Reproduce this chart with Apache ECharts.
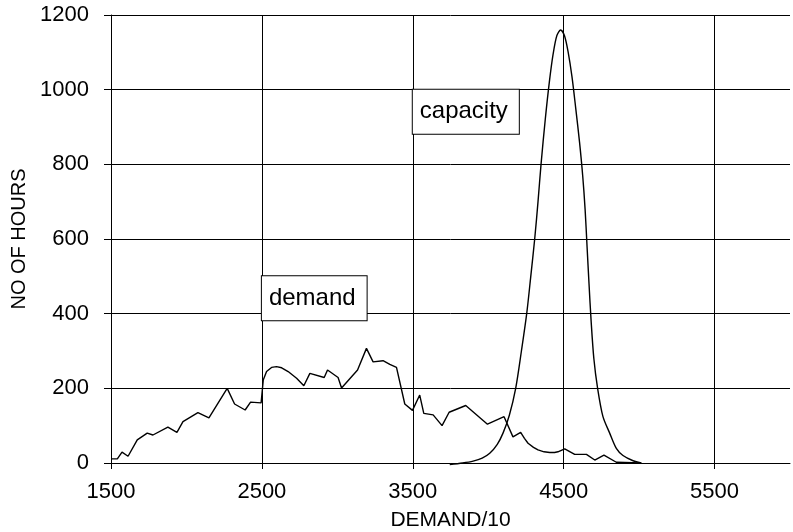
<!DOCTYPE html>
<html>
<head>
<meta charset="utf-8">
<script src="https://cdn.jsdelivr.net/npm/echarts@6/dist/echarts.min.js"></script>
<style>
    html, body { margin: 0; padding: 0; background: #fff; }
    #chart { width: 793px; height: 532px; }
</style>
</head>
<body>
<div id="chart"></div>
<script>
// demand curve
var demandX = [1502, 1542, 1573, 1613, 1674, 1740, 1778, 1877, 1937, 1977, 2076, 2149, 2270, 2319, 2389, 2425, 2495,
    2502, 2509, 2531, 2564, 2597, 2631, 2674, 2730, 2778, 2818, 2913, 2935, 3005, 3028, 3134, 3193, 3237, 3303, 3348, 3392,
    3447, 3498, 3546, 3573, 3635, 3694, 3741, 3851, 3995, 4105, 4164, 4215, 4240, 4264, 4300, 4330, 4370, 4408, 4440, 4462,
    4507, 4573, 4651, 4706, 4767, 4849, 5015];
var demandY = [11, 11, 29, 18, 62, 80, 75, 96, 82, 111, 135, 121, 200, 158, 142, 163, 161,
    164, 222, 245, 256, 258, 255, 245, 227, 207, 240, 229, 249, 229, 201, 249, 307, 271, 274, 264, 256,
    158, 141, 182, 133, 129, 100, 136, 154, 104, 124, 70, 82, 66, 53, 42, 35, 30, 28, 28, 30,
    38, 23, 23, 8, 21, 2, 0];

// capacity curve
var capacityX = [3745, 3830, 3900, 3960, 4010, 4060, 4098, 4140, 4182, 4220, 4255, 4282, 4308, 4330, 4350, 4378, 4405,
    4430, 4455, 4480, 4505, 4530, 4555, 4580, 4605, 4626, 4642, 4655, 4668, 4682, 4700, 4725, 4760, 4805, 4849,
    4893, 4960, 5014];
var capacityY = [-4, 0, 5, 13, 26, 50, 80, 128, 200, 300, 400, 500, 600, 700, 800, 920, 1020,
    1095, 1145, 1160, 1145, 1100, 1035, 950, 860, 770, 680, 580, 480, 380, 280, 200, 125, 80, 39,
    20, 6, 0];

var xTicks = { min: 1500, max: 6000, step: 1000 };
var yTicks = { min: 0, max: 1200, step: 200 };

var notes = [
    { text: 'capacity', at: [3500, 1000] },
    { text: 'demand', at: [2500, 500] }
];

function pairs(xs, ys) {
    var out = [];
    for (var i = 0; i < xs.length; i++) {
        out.push([xs[i], ys[i]]);
    }
    return out;
}

var chart = echarts.init(document.getElementById('chart'));
var font = "'Liberation Sans', Arial, sans-serif";

chart.setOption({
    animation: false,
    backgroundColor: '#fff',
    grid: { left: 111, right: 3, top: 15, bottom: 69, containLabel: false, outerBoundsMode: 'none' },
    xAxis: {
        type: 'value',
        min: xTicks.min,
        max: xTicks.max,
        interval: xTicks.step,
        name: 'DEMAND/10',
        nameLocation: 'middle',
        nameGap: 47,
        nameTextStyle: { color: '#000', fontSize: 21, fontFamily: font },
        axisLine: { show: true, lineStyle: { color: '#000', width: 1 } },
        axisTick: { show: true, length: 6, lineStyle: { color: '#000' } },
        axisLabel: {
            color: '#000', fontSize: 22, fontFamily: font, margin: 18, showMaxLabel: false,
            formatter: function (v) { return String(v); }
        },
        splitLine: { show: true, showMaxLine: false, lineStyle: { color: '#000', width: 1 } }
    },
    yAxis: {
        type: 'value',
        min: yTicks.min,
        max: yTicks.max,
        interval: yTicks.step,
        name: 'NO OF HOURS',
        nameLocation: 'middle',
        nameGap: 76,
        nameTextStyle: { color: '#000', fontSize: 20, fontFamily: font },
        axisLine: { show: true, lineStyle: { color: '#000', width: 1 } },
        axisTick: { show: true, length: 7, lineStyle: { color: '#000' } },
        axisLabel: {
            color: '#000', fontSize: 22, fontFamily: font, margin: 22,
            formatter: function (v) { return String(v); }
        },
        splitLine: { show: true, lineStyle: { color: '#000', width: 1 } }
    },
    series: [
        {
            name: 'demand',
            type: 'line',
            data: pairs(demandX, demandY),
            showSymbol: false,
            symbol: 'none',
            lineStyle: { color: '#000', width: 1.4 },
            z: 3,
            markPoint: {
                symbol: 'circle',
                symbolSize: 0,
                silent: true,
                data: notes.map(function (n) {
                    return {
                        coord: n.at,
                        label: {
                            show: true,
                            formatter: n.text,
                            position: [0, 0],
                            align: 'left',
                            verticalAlign: 'top',
                            color: '#000',
                            fontSize: 24,
                            fontFamily: font,
                            backgroundColor: '#fff',
                            borderColor: '#000',
                            borderWidth: 1,
                            padding: [10, 11, 10, 7]
                        }
                    };
                })
            }
        },
        {
            name: 'capacity',
            type: 'line',
            data: pairs(capacityX, capacityY),
            smooth: 0.3,
            showSymbol: false,
            symbol: 'none',
            clip: false,
            lineStyle: { color: '#000', width: 1.4 },
            z: 2
        }
    ]
});
</script>
</body>
</html>
